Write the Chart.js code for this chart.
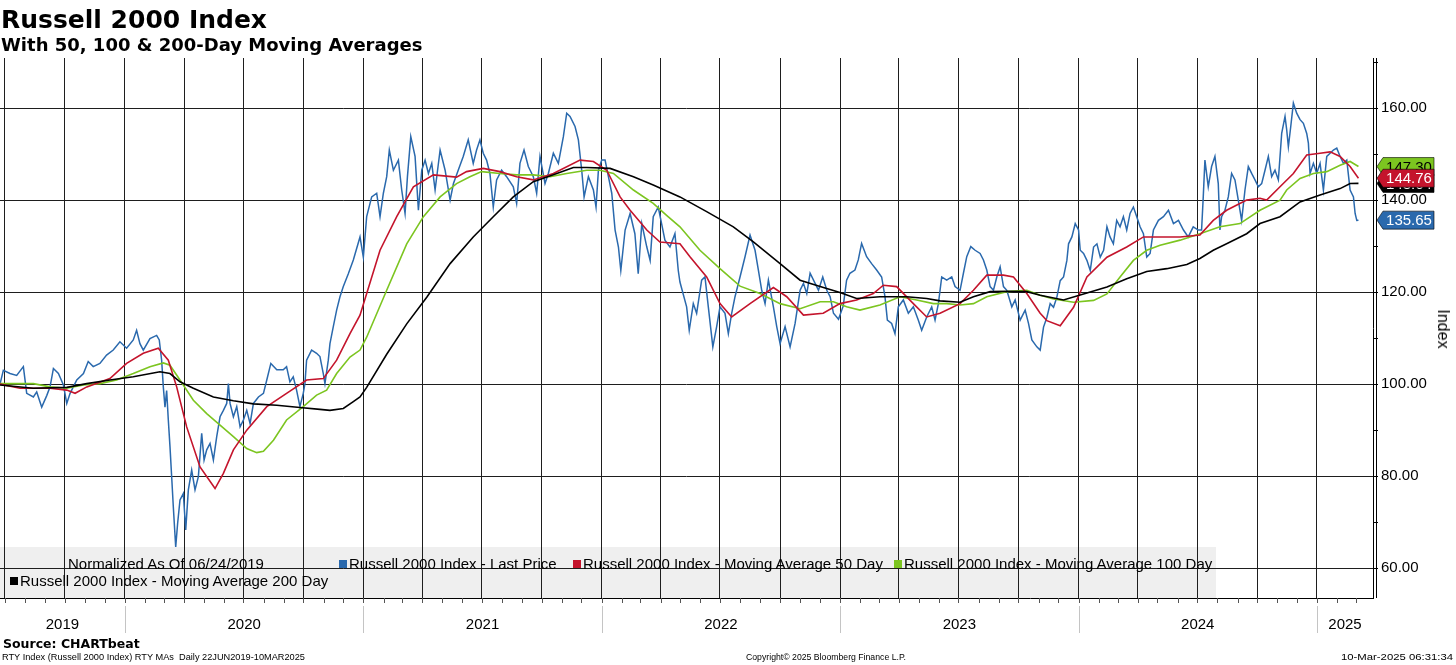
<!DOCTYPE html>
<html><head><meta charset="utf-8">
<script src="https://cdn.jsdelivr.net/npm/chart.js@4.4.1/dist/chart.umd.min.js"></script>
<style>
html,body{margin:0;padding:0;background:#fff;}
#wrap{position:relative;width:1456px;height:665px;overflow:hidden;background:#fff;}
canvas{position:absolute;left:0;top:0;}
.t{position:absolute;white-space:nowrap;line-height:1;color:#000;transform-origin:0 50%;}
.lg{font-family:"Liberation Sans",Arial,sans-serif;font-size:15px;}
.sq{position:absolute;width:8px;height:8px;}
</style></head><body>
<div id="wrap">
<canvas id="c" width="1456" height="665"></canvas>
<div class="t" style="left:1px;top:5px;font:bold 25px 'DejaVu Sans',Verdana,sans-serif;">Russell 2000 Index</div>
<div class="t" style="left:1px;top:34px;font:bold 18px 'DejaVu Sans',Verdana,sans-serif;">With 50, 100 &amp; 200-Day Moving Averages</div>

<div class="t lg" style="left:68px;top:556px;">Normalized As Of 06/24/2019</div>
<div class="sq" style="left:339px;top:560px;background:#2a69ad;"></div>
<div class="t lg" style="left:349px;top:556px;">Russell 2000 Index - Last Price</div>
<div class="sq" style="left:573px;top:560px;background:#c4142c;"></div>
<div class="t lg" style="left:583px;top:556px;">Russell 2000 Index - Moving Average 50 Day</div>
<div class="sq" style="left:894px;top:560px;background:#7cc520;"></div>
<div class="t lg" style="left:904px;top:556px;">Russell 2000 Index - Moving Average 100 Day</div>
<div class="sq" style="left:10px;top:577px;background:#000;"></div>
<div class="t lg" style="left:20px;top:573px;">Russell 2000 Index - Moving Average 200 Day</div>

<div class="t" style="left:1443px;top:329px;font:16px 'Liberation Sans',Arial,sans-serif;transform-origin:50% 50%;transform:translate(-50%,-50%) rotate(90deg);">Index</div>

<div class="t" style="left:3px;top:636px;font:bold 12.5px 'DejaVu Sans',Verdana,sans-serif;">Source: CHARTbeat</div>
<div class="t fit" data-w="303" style="left:2px;top:652px;font:9px 'Liberation Sans',Arial,sans-serif;">RTY Index (Russell 2000 Index) RTY MAs&nbsp;&nbsp;Daily 22JUN2019-10MAR2025</div>
<div class="t fit" data-w="160" style="left:746px;top:652px;font:9px 'Liberation Sans',Arial,sans-serif;">Copyright© 2025 Bloomberg Finance L.P.</div>
<div class="t fit" data-w="112" style="left:1341px;top:652px;font:9px 'Liberation Sans',Arial,sans-serif;">10-Mar-2025 06:31:34</div>
</div>
<script>
// ---------- DATA (x = decimal year) ----------
const priceDates = [2019.476,2019.490,2019.518,2019.546,2019.574,2019.588,2019.616,2019.630,2019.651,2019.672,2019.686,2019.700,2019.721,2019.742,2019.756,2019.770,2019.798,2019.826,2019.846,2019.867,2019.895,2019.923,2019.951,2019.979,2020.007,2020.035,2020.049,2020.063,2020.077,2020.105,2020.133,2020.144,2020.154,2020.161,2020.168,2020.175,2020.182,2020.189,2020.196,2020.203,2020.213,2020.221,2020.231,2020.245,2020.255,2020.266,2020.280,2020.294,2020.308,2020.322,2020.332,2020.343,2020.357,2020.371,2020.385,2020.399,2020.413,2020.427,2020.434,2020.441,2020.455,2020.469,2020.483,2020.497,2020.511,2020.525,2020.539,2020.560,2020.581,2020.595,2020.612,2020.637,2020.664,2020.678,2020.692,2020.706,2020.720,2020.734,2020.748,2020.755,2020.762,2020.783,2020.804,2020.818,2020.832,2020.839,2020.853,2020.860,2020.874,2020.888,2020.902,2020.916,2020.937,2020.958,2020.986,2021.000,
2021.014,2021.035,2021.056,2021.070,2021.084,2021.098,2021.109,2021.126,2021.147,2021.161,2021.175,2021.185,2021.199,2021.217,2021.231,2021.245,2021.259,2021.273,2021.287,2021.301,2021.322,2021.343,2021.364,2021.378,2021.398,2021.419,2021.440,2021.461,2021.475,2021.489,2021.503,2021.517,2021.531,2021.545,2021.559,2021.580,2021.601,2021.629,2021.643,2021.657,2021.674,2021.692,2021.713,2021.727,2021.741,2021.762,2021.776,2021.797,2021.818,2021.839,2021.853,2021.867,2021.888,2021.902,2021.916,2021.926,2021.944,2021.965,2021.976,2021.986,2022.000,2022.014,2022.028,2022.042,2022.056,2022.070,2022.080,2022.098,2022.119,2022.139,2022.153,2022.168,2022.189,2022.203,2022.216,2022.237,2022.251,2022.265,2022.286,2022.307,2022.321,2022.328,
2022.356,2022.367,2022.384,2022.398,2022.419,2022.433,2022.447,2022.466,2022.482,2022.496,2022.517,2022.531,2022.545,2022.559,2022.580,2022.601,2022.622,2022.643,2022.657,2022.671,2022.685,2022.699,2022.720,2022.734,2022.748,2022.769,2022.790,2022.811,2022.832,2022.846,2022.860,2022.874,2022.895,2022.909,2022.927,2022.944,2022.958,2022.972,2022.993,2023.013,2023.027,2023.041,2023.062,2023.076,2023.090,2023.111,2023.132,2023.153,2023.174,2023.188,2023.198,2023.216,2023.230,2023.244,2023.265,2023.286,2023.307,2023.328,2023.342,2023.363,2023.384,2023.398,2023.412,2023.426,2023.447,2023.468,2023.482,2023.503,2023.517,2023.531,2023.548,2023.566,2023.587,2023.601,2023.615,2023.629,2023.643,2023.657,2023.671,2023.685,2023.699,2023.720,2023.734,2023.755,2023.776,2023.790,2023.804,2023.825,2023.839,
2023.853,2023.867,2023.881,2023.895,2023.909,2023.923,2023.937,2023.951,2023.958,2023.972,2023.986,2024.000,2024.007,2024.021,2024.035,2024.049,2024.063,2024.077,2024.091,2024.105,2024.119,2024.132,2024.146,2024.160,2024.174,2024.188,2024.202,2024.216,2024.230,2024.244,2024.258,2024.272,2024.286,2024.300,2024.314,2024.335,2024.356,2024.377,2024.398,2024.419,2024.440,2024.460,2024.481,2024.502,2024.516,2024.523,2024.530,2024.544,2024.558,2024.572,2024.586,2024.593,2024.600,2024.614,2024.628,2024.642,2024.656,2024.670,2024.684,2024.698,2024.712,2024.726,2024.740,2024.754,2024.768,2024.782,2024.796,2024.810,2024.824,2024.838,2024.852,2024.866,2024.873,2024.880,2024.890,2024.901,2024.915,2024.929,2024.943,2024.957,2024.964,2024.971,2024.985,2024.999,2025.013,2025.027,2025.041,2025.055,2025.069,2025.083,2025.097,2025.111,2025.125,2025.139,2025.153,2025.160,2025.167,2025.174];
const priceValues = [100,103,102.3,101.9,103.8,98,97.2,98.3,95,97.5,99.4,103.4,102.3,99.8,95.8,98,100.9,102.3,104.9,103.8,104.5,106.3,107.4,109.2,107.8,109.6,111.7,108.8,107.4,109.9,110.6,109.6,105.2,99.4,95,98.6,92.2,86.4,79.9,73.3,64.6,69.7,74.8,76.2,68.3,77,81.3,77,79.9,89.3,83.5,85.7,87.1,83.5,88.6,92.9,94.3,95.8,100.1,95.8,92.9,95.1,90.7,92.2,94.3,91.4,95.8,97.2,98,100.9,104.5,103.1,103.1,103.8,100.5,101.6,98.7,95.1,98,100.1,105.2,107.4,106.7,106,102.3,100.1,105.2,108.8,112.5,116.1,119,121.2,124,127,132,127.6,
136.4,140.7,141.5,136.4,141.5,145.1,150.9,146.5,148.7,142.2,137.1,145.1,153.8,149.5,137.8,146.5,148.7,145.8,148,142.2,150.9,146.5,140,143.6,146.5,149.5,153.1,148,150.9,153.1,150.2,148.7,145.8,138.5,144.4,146.5,145.1,142.9,139.3,148,150.9,147.3,145.1,141.5,149.5,143.6,145.8,150.2,148,153.8,158.9,158.2,156,153.1,146.5,140.7,145.1,142.2,138.5,146.5,148.7,148.7,145.1,141.5,133.5,129.8,124.7,133.5,137.1,132.7,124,134.9,129.8,126.9,136.4,138.5,134.9,131.3,129.8,132.7,124.7,122.2,
116.8,111.7,117.5,115.4,122.6,123.3,116.8,108.1,112.5,116.8,115.4,111,115.4,119,123.3,127.7,132.4,129.1,124.8,120.4,117.5,122.6,116.8,112.5,108.8,112.5,108.1,113.2,120.4,121.9,119.7,124.1,121.9,120.4,123.3,120.4,119,115.4,114.1,117,122.6,124.1,124.8,127,130.6,127.7,126.2,124.8,123.3,119,113.9,113.2,111,116.8,118.3,115.4,116.8,113.9,111.7,114.6,116.8,113.9,117.5,123.3,122.6,123.3,121.2,120.4,124.1,127.7,129.9,129.1,128.4,127,124.8,121.2,120.4,123.3,125.5,121.2,120.4,116.8,118.3,113.9,116.1,113.2,109.6,108.1,107.4,
112.4,114.5,117.5,116.7,118.9,122.5,123.3,126.9,130.5,132,134.9,133.5,129.1,128.4,126.9,124.7,129.8,130.5,127.6,129.1,134.2,132,130.5,135.6,134.2,136.4,133.5,137.1,138.5,136.4,134.2,132.7,127.6,128.4,133.5,135.6,136.4,137.8,134.9,135.6,133.5,132,134.2,133.5,133.5,140.7,148.7,142.9,147.3,149.5,143.6,133.5,136.4,137.8,140.7,145.8,144.4,140,135.6,142.2,147.3,145.8,144.4,142.9,143.6,146.5,149.5,145.1,146.5,144.4,154.5,158.2,155.3,151.6,156,161.1,158.9,157.5,156.7,154.5,152.4,145.8,148,145.8,148,142.2,149.5,150.2,150.9,151.3,149.5,148,148.7,142.2,140.7,137.1,135.6,135.65];

const ma50Dates = [2019.476,2019.560,2019.686,2019.756,2019.791,2019.840,2019.937,2020.007,2020.077,2020.140,2020.182,2020.217,2020.259,2020.315,2020.378,2020.413,2020.455,2020.511,2020.595,2020.678,2020.762,2020.832,2020.888,2020.944,2020.986,2021.070,2021.140,2021.210,2021.294,2021.391,2021.433,2021.503,2021.573,2021.643,2021.713,2021.797,2021.909,2021.965,2022.021,2022.077,2022.119,2022.189,2022.244,2022.328,2022.370,2022.440,2022.496,2022.545,2022.622,2022.720,2022.776,2022.846,2022.929,2022.999,2023.069,2023.139,2023.181,2023.237,2023.307,2023.363,2023.419,2023.503,2023.559,2023.615,2023.685,2023.727,2023.783,2023.839,2023.867,2023.923,2023.979,2024.035,2024.119,2024.202,2024.272,2024.342,2024.426,2024.509,2024.565,2024.621,2024.705,2024.761,2024.789,2024.845,2024.901,2024.957,2025.013,2025.055,2025.097,2025.139,2025.174];
const ma50Values = [100,99.1,99.1,98.7,98,99.4,101.2,104.5,106.7,107.8,105.2,99.4,90.7,82,77.3,80.6,85.7,90,95.1,98,100.9,101.2,105.2,111,115,129.1,136.4,142.9,145.5,145,146.2,146.9,146.2,145.1,144.4,145.8,148.7,148.4,146.5,140.7,137.8,133.5,130.9,130.5,127.7,123.3,117.5,114.6,117.5,121,119,115,115.4,117.5,118.3,119.7,121.5,121.2,117.5,114.6,115.4,117.5,120.4,123.7,123.7,123.3,119.7,115.4,113.8,112.7,116.7,123.3,127.6,129.8,132,132,132,132.4,135.6,137.8,140,140.4,140,142.9,145.8,149.8,150.2,150.5,149.5,147.3,144.76];

const ma100Dates = [2019.476,2019.616,2019.686,2019.756,2019.826,2019.895,2019.965,2020.035,2020.105,2020.161,2020.189,2020.231,2020.287,2020.343,2020.399,2020.455,2020.511,2020.553,2020.581,2020.623,2020.678,2020.748,2020.804,2020.846,2020.888,2020.944,2020.986,2021.014,2021.098,2021.182,2021.252,2021.322,2021.391,2021.447,2021.496,2021.573,2021.643,2021.713,2021.783,2021.853,2021.937,2021.993,2022.049,2022.133,2022.216,2022.272,2022.328,2022.412,2022.496,2022.580,2022.664,2022.748,2022.832,2022.916,2022.972,2023.027,2023.083,2023.167,2023.251,2023.321,2023.391,2023.447,2023.503,2023.559,2023.615,2023.699,2023.783,2023.839,2023.895,2023.979,2024.063,2024.119,2024.174,2024.230,2024.286,2024.342,2024.426,2024.509,2024.593,2024.677,2024.761,2024.845,2024.873,2024.929,2024.985,2025.041,2025.097,2025.139,2025.174];
const ma100Values = [100.1,100.1,99.4,99.1,99.8,100.1,100.9,102.3,103.8,104.6,104.1,100.9,96.5,93.6,91.1,88.6,86,85.1,85.4,87.8,92.2,95.1,97.6,98.7,102.3,105.9,107.4,110.2,120.4,130.5,136.4,140.7,143.6,145.1,146.2,145.8,145.5,145.5,145.1,145.8,146.5,146.5,145.8,142.2,139.3,136.7,134.2,129.1,125.1,121.3,119.7,117.5,116.4,117.9,117.9,116.8,116.1,117.2,119,118.3,117.5,117.5,117.2,117.5,119,120.1,120.4,119.3,118.5,117.8,118.2,119.6,123.3,126.9,129.1,130.2,131.3,132.7,134.2,134.9,137.8,140,142.2,144.7,145.8,146.2,147.6,148.4,147.3];

const ma200Dates = [2019.476,2019.616,2019.756,2019.840,2019.937,2020.035,2020.147,2020.189,2020.231,2020.287,2020.371,2020.455,2020.539,2020.637,2020.734,2020.818,2020.860,2020.916,2020.958,2020.986,2021.014,2021.098,2021.182,2021.266,2021.364,2021.461,2021.545,2021.629,2021.713,2021.797,2021.881,2021.937,2022.035,2022.133,2022.216,2022.328,2022.440,2022.552,2022.636,2022.748,2022.832,2022.916,2022.999,2023.069,2023.167,2023.279,2023.363,2023.419,2023.503,2023.559,2023.629,2023.699,2023.783,2023.839,2023.937,2024.035,2024.119,2024.202,2024.286,2024.370,2024.454,2024.509,2024.565,2024.621,2024.705,2024.761,2024.845,2024.929,2025.013,2025.097,2025.139,2025.174];
const ma200Values = [99.8,99.1,99.3,100.1,100.9,101.6,102.7,102.3,100.5,99.1,97.2,96.4,95.7,95.4,94.9,94.5,94.3,94.7,96.2,97.2,99.3,106.5,113.1,118.9,126.2,132,136.4,140.7,144,145.5,147.1,147.1,146.9,145.1,143.3,140.7,137.5,134.2,130.9,126.2,122.6,121.2,119.9,118.6,119,119,118.6,118.1,117.8,119,120.1,120.2,120.1,119.3,118.3,119.8,121.1,122.9,124.5,125.1,126,127.3,129.1,130.5,132.7,134.9,136.4,139.6,141.1,142.5,143.6,143.64];

const yearLabels = ['2019','2020','2021','2022','2023','2024','2025'];
const yTickValues = [60,70,80,90,100,110,120,130,140,150,160,170];
const seriesNames = ['Russell 2000 Index - Last Price','Russell 2000 Index - Moving Average 50 Day','Russell 2000 Index - Moving Average 100 Day','Russell 2000 Index - Moving Average 200 Day'];

// ---------- helpers ----------
const X_MIN = 2019.476, X_MAX = 2025.235;
function dy(y, m){ const a=Date.UTC(y,0,1), b=Date.UTC(y+1,0,1); return y + (Date.UTC(y,m,1)-a)/(b-a); }
const quarterTicks=[], monthTicks=[], yearStarts=[];
for (let y=2019;y<=2025;y++){ for(let m=0;m<12;m++){ const v=dy(y,m); if(v<X_MIN||v>X_MAX) continue; monthTicks.push(v); if(m%3===0) quarterTicks.push(v); if(m===0) yearStarts.push(v);} }
const zip=(xs,ys)=>xs.map((x,i)=>({x, y: ys[i]}));

const BLUE='#2a69ad', RED='#c4142c', GREEN='#7cc520', BLACK='#000000';

const decor = {
  id:'decor',
  beforeDraw(chart){
    const {ctx, chartArea:a} = chart;
    ctx.save(); ctx.fillStyle='#efefef'; ctx.fillRect(a.left, 547, 1216-a.left, a.bottom-547); ctx.restore();
  },
  afterDraw(chart){
    const {ctx, chartArea:a, scales:{x,y}} = chart;
    ctx.save();
    ctx.strokeStyle='#000'; ctx.lineWidth=1;
    ctx.beginPath(); ctx.moveTo(a.right+3.5, a.top); ctx.lineTo(a.right+3.5, a.bottom); ctx.stroke();
    ctx.strokeStyle='#555';
    monthTicks.forEach(v=>{ const px=Math.round(x.getPixelForValue(v))+0.5; ctx.beginPath(); ctx.moveTo(px,a.bottom); ctx.lineTo(px,a.bottom+5); ctx.stroke(); });
    ctx.strokeStyle='#c4c4c4';
    yearStarts.forEach(v=>{ const px=Math.round(x.getPixelForValue(v))+0.5; ctx.beginPath(); ctx.moveTo(px,a.bottom+8); ctx.lineTo(px,a.bottom+35); ctx.stroke(); });
    ctx.fillStyle='#000'; ctx.font='15px "Liberation Sans", Arial, sans-serif'; ctx.textAlign='center'; ctx.textBaseline='middle';
    yearLabels.forEach(lab=>{ const yr=+lab; const s=Math.max(X_MIN,dy(yr,0)); const e=Math.min(X_MAX,dy(yr+1,0)); ctx.fillText(lab,(x.getPixelForValue(s)+x.getPixelForValue(e))/2, 625); });
    // value tags
    const tags=[[ma200Values,BLACK,'#fff'],[ma100Values,GREEN,'#000'],[ma50Values,RED,'#fff'],[priceValues,BLUE,'#fff']];
    tags.forEach(([arr,col,tc])=>{
      const v=arr[arr.length-1], py=y.getPixelForValue(v), x0=a.right+4, h=9;
      ctx.beginPath(); ctx.moveTo(x0,py); ctx.lineTo(x0+6,py-h); ctx.lineTo(x0+57,py-h); ctx.lineTo(x0+57,py+h); ctx.lineTo(x0+6,py+h); ctx.closePath();
      ctx.fillStyle=col; ctx.fill(); ctx.strokeStyle='rgba(0,0,0,0.6)'; ctx.lineWidth=1; ctx.stroke();
      ctx.fillStyle=tc; ctx.font='15px "Liberation Sans", Arial, sans-serif'; ctx.textAlign='center'; ctx.textBaseline='middle';
      ctx.fillText(v.toFixed(2), x0+32, py+1);
    });
    ctx.restore();
  }
};

new Chart(document.getElementById('c'), {
  type:'line',
  data:{ datasets:[
    {label:seriesNames[0], data:zip(priceDates,priceValues), borderColor:BLUE, borderWidth:1.5, order:4},
    {label:seriesNames[2], data:zip(ma100Dates,ma100Values), borderColor:GREEN, borderWidth:1.6, order:3},
    {label:seriesNames[1], data:zip(ma50Dates,ma50Values), borderColor:RED, borderWidth:1.6, order:2},
    {label:seriesNames[3], data:zip(ma200Dates,ma200Values), borderColor:BLACK, borderWidth:1.6, order:1}
  ]},
  options:{
    responsive:false, animation:false, devicePixelRatio:1,
    layout:{padding:{top:58,bottom:67,left:0,right:0}},
    plugins:{legend:{display:false}, tooltip:{enabled:false}, title:{display:false}},
    elements:{point:{radius:0}, line:{tension:0, fill:false}},
    scales:{
      x:{type:'linear', min:X_MIN, max:X_MAX,
        afterBuildTicks:s=>{ s.ticks=quarterTicks.map(v=>({value:v})); },
        ticks:{display:false}, grid:{color:'#1e1e1e', lineWidth:1, drawTicks:false},
        border:{display:true, color:'#000', width:1},
        afterFit:s=>{ s.height=0; }},
      y:{position:'right', min:53.5, max:170.9,
        afterBuildTicks:s=>{ s.ticks=yTickValues.map(v=>({value:v})); },
        ticks:{callback:v=> (v%20===0 ? Number(v).toFixed(2) : ''), font:{family:'"Liberation Sans", Arial, sans-serif', size:15}, color:'#000', padding:3, autoSkip:false},
        grid:{color:c=> (c.tick && c.tick.value%20===0 ? '#1e1e1e' : 'rgba(0,0,0,0)'), tickColor:'#000', tickLength:5, drawTicks:true, lineWidth:1},
        border:{display:true, color:'#000', width:1},
        afterFit:s=>{ s.width=1456-1373; }}
    }
  },
  plugins:[decor]
});

document.querySelectorAll('.fit').forEach(el=>{ const w=el.getBoundingClientRect().width; const t=+el.dataset.w; if(w>0) el.style.transform='scaleX('+(t/w)+')'; });
</script>
</body></html>
